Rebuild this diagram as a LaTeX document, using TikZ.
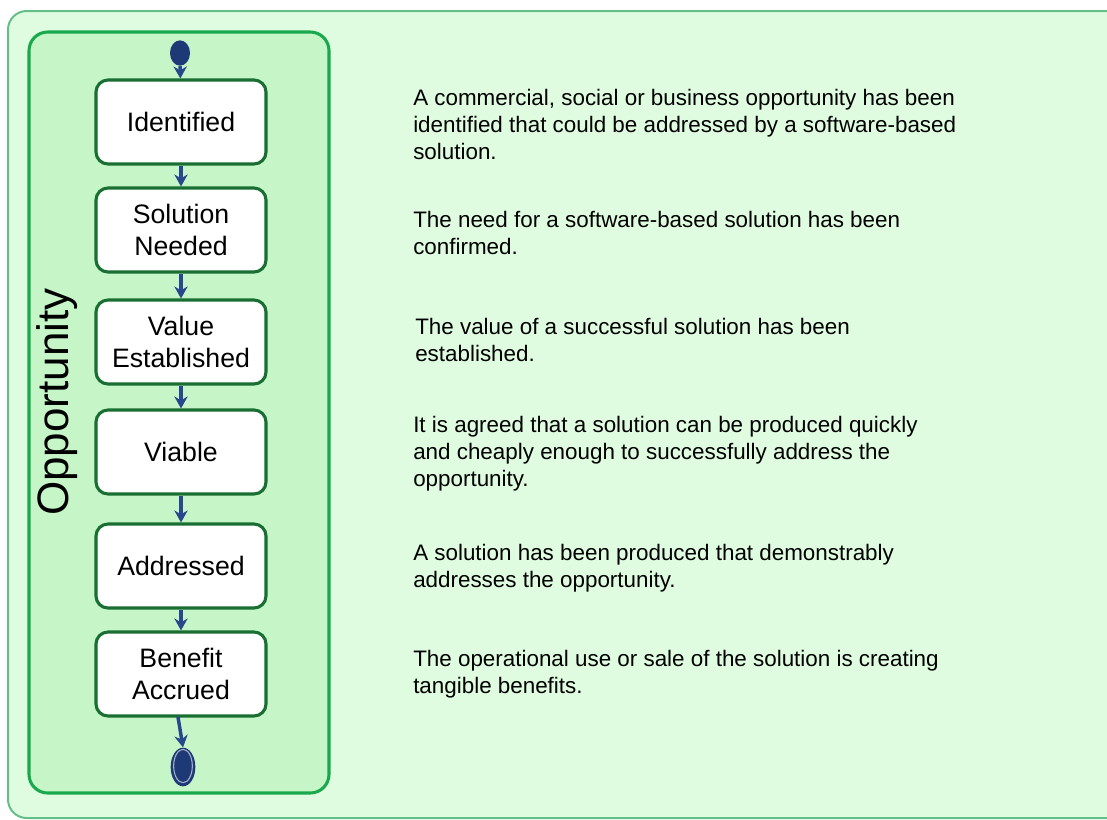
\documentclass[tikz,border=0pt]{standalone}
\usepackage{fontspec}
\setmainfont{Liberation Sans}
\usetikzlibrary{arrows.meta,shapes.geometric}
\definecolor{outerfill}{RGB}{224,252,224}
\definecolor{outerline}{RGB}{100,190,135}
\definecolor{innerfill}{RGB}{198,245,200}
\definecolor{innerline}{RGB}{25,168,75}
\definecolor{boxline}{RGB}{25,110,50}
\definecolor{arrowcol}{RGB}{40,72,140}
\definecolor{dotcol}{RGB}{30,58,118}
\tikzset{
  state/.style={draw=boxline, line width=2.3pt, fill=white, rounded corners=9pt,
    minimum width=127.5pt, minimum height=63pt, align=center,
    font=\fontsize{20}{24}\selectfont, inner sep=2pt},
  desc/.style={anchor=west, align=left, inner sep=0pt,
    font=\fontsize{16.8}{20.25}\selectfont},
  flow/.style={draw=arrowcol, line width=2.6pt, -{Stealth[length=9pt,width=10pt]}},
}
\begin{document}
\begin{tikzpicture}[x=0.75pt,y=-0.75pt]
\useasboundingbox (0,0) rectangle (1107,819);
\clip (0,0) rectangle (1107,819);
\fill[white] (0,0) rectangle (1107,819);
% outer panel
\draw[fill=outerfill, draw=outerline, line width=1.5pt, rounded corners=14pt] (8,11) rectangle (1140,818);
% inner panel
\draw[fill=innerfill, draw=innerline, line width=2.3pt, rounded corners=14pt] (29,32) rectangle (329,793);
\node[rotate=90, font=\fontsize{33}{36}\selectfont, inner sep=0pt] (title) at (57,402) {Opportunity};
% states
\node[ellipse, fill=dotcol, minimum width=15pt, minimum height=19pt, inner sep=0pt] (start) at (180,53) {};
\node[state] (s1) at (181,122) {Identified};
\node[state] (s2) at (181,230) {Solution\\Needed};
\node[state] (s3) at (181,342) {Value\\Established};
\node[state] (s4) at (181,452) {Viable};
\node[state] (s5) at (181,566) {Addressed};
\node[state] (s6) at (181,674) {Benefit\\Accrued};
\node[ellipse, fill=dotcol, minimum width=18.5pt, minimum height=29pt, inner sep=0pt] (end) at (183,767) {};
\node[ellipse, draw=white!60!dotcol, line width=0.8pt, minimum width=14pt, minimum height=25pt, inner sep=0pt] (endring) at (183,766) {};
\coordinate (s6out) at (178,717);
% connectors
\draw[flow] (start) -- (s1);
\draw[flow] (s1) -- (s2);
\draw[flow] (s2) -- (s3);
\draw[flow] (s3) -- (s4);
\draw[flow] (s4) -- (s5);
\draw[flow] (s5) -- (s6);
\draw[flow] (s6out) -- (end.north);
% descriptions
\node[desc] (d1) at (413,124) {A commercial, social or business opportunity has been\\identified that could be addressed by a software-based\\solution.};
\node[desc] (d2) at (413,233) {The need for a software-based solution has been\\confirmed.};
\node[desc] (d3) at (415,340) {The value of a successful solution has been\\established.};
\node[desc] (d4) at (413,454) {It is agreed that a solution can be produced quickly\\and cheaply enough to successfully address the\\opportunity.};
\node[desc] (d5) at (413,568) {A solution has been produced that demonstrably\\addresses the opportunity.};
\node[desc] (d6) at (413,674) {The operational use or sale of the solution is creating\\tangible benefits.};
\end{tikzpicture}
\end{document}
